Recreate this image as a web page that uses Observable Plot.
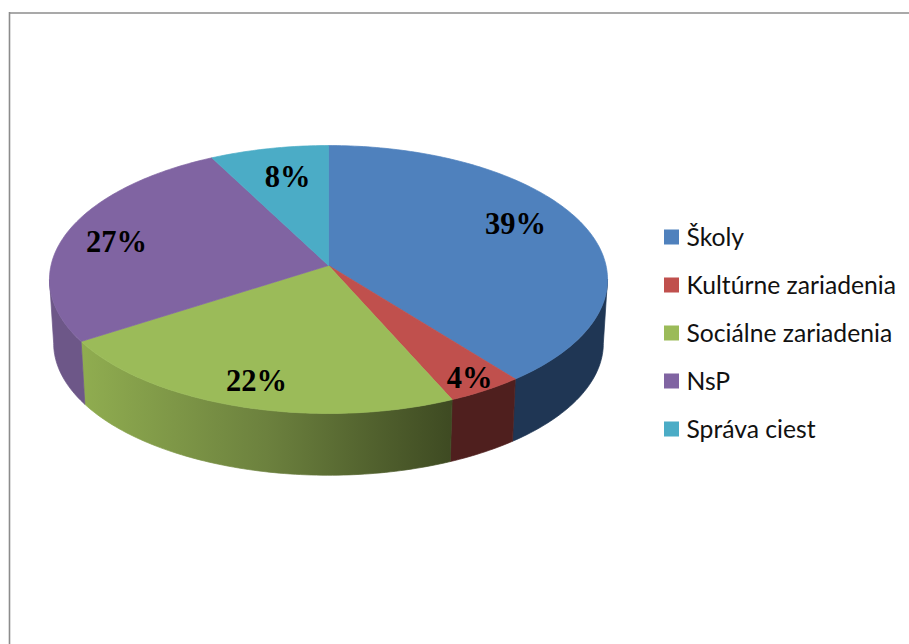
<!DOCTYPE html>
<html>
<head>
<meta charset="utf-8">
<script src="https://cdn.jsdelivr.net/npm/d3@7"></script>
<script src="https://cdn.jsdelivr.net/npm/@observablehq/plot@0.6"></script>
<style>html,body{margin:0;padding:0;background:#fff;overflow:hidden}svg{display:block}</style>
</head>
<body>
<div id="chart"></div>
<script>
const categories = ["Školy", "Kultúrne zariadenia", "Sociálne zariadenia", "NsP", "Správa ciest"];
const shares = [39.4, 4.0, 22.5, 26.5, 7.6];
const labels = ["39%", "4%", "22%", "27%", "8%"];
const topColors = ["#4f81bd", "#c0504d", "#9bbb59", "#8064a2", "#4bacc6"];
const wallColors = ["#1f3654", "#4f1f1e", "url(#greenWall)", "#6d5788", "#3a8296"];

// pie geometry (tilted disc seen in perspective)
const apex = {x: 328, y: 265}, X = 277.5, Y = 132.5, K = 0.1045, DEPTH = 64, SHRINK = 0.985;
const project = (deg) => {
  const a = deg * Math.PI / 180, u = Math.sin(a), v = -Math.cos(a), d = 1 - K * v;
  return {dx: X * u / d, dy: Y * v / d};
};
const rim = (deg) => { const p = project(deg); return {x: apex.x + p.dx, y: apex.y + p.dy}; };
const lowerRim = (deg) => { const p = project(deg); return {x: apex.x + p.dx * SHRINK, y: apex.y + p.dy * SHRINK + DEPTH}; };
const sweep = (a0, a1, f) => {
  const n = Math.max(2, Math.ceil(Math.abs(a1 - a0))), out = [];
  for (let i = 0; i <= n; i++) out.push(f(a0 + (a1 - a0) * i / n));
  return out;
};

const total = d3.sum(shares);
let acc = 0;
const slices = shares.map((s, i) => {
  const a0 = acc / total * 360; acc += s;
  return {i, a0, a1: acc / total * 360};
});
const WALL_START = 96, WALL_END = 264;

const polygon = (pts, color) => Plot.line(pts, {x: "x", y: "y", fill: color, stroke: color, strokeWidth: 0.7, curve: "linear"});

const walls = slices.flatMap(({i, a0, a1}) => {
  const s = Math.max(a0, WALL_START), e = Math.min(a1, WALL_END);
  if (e <= s) return [];
  const pts = [...sweep(s, e, rim), ...sweep(e, s, lowerRim)];
  pts.push(pts[0]);
  return [polygon(pts, wallColors[i])];
});
const tops = slices.map(({i, a0, a1}) => {
  const pts = [apex, ...sweep(a0, a1, rim), apex];
  return polygon(pts, topColors[i]);
});

// label and legend layout
const labelSpots = [[515, 224], [469, 378], [256, 381], [116, 242], [287, 177]];
const labelRows = labels.map((t, i) => ({t, x: labelSpots[i][0], y: labelSpots[i][1]}));
const legendRows = categories.map((name, i) => ({name, color: topColors[i], y: 237 + 48 * i}));

const defs = () => {
  const d = d3.create("svg:defs");
  const g = d.append("linearGradient").attr("id", "greenWall").attr("x1", 0).attr("x2", 1).attr("y1", 0).attr("y2", 0);
  g.append("stop").attr("offset", "0%").attr("stop-color", "#90ad50");
  g.append("stop").attr("offset", "50%").attr("stop-color", "#6c813e");
  g.append("stop").attr("offset", "100%").attr("stop-color", "#3e4a22");
  return d.node();
};

const chart = Plot.plot({
  width: 909, height: 644,
  margin: 0,
  x: {domain: [0, 909], range: [0, 909], axis: null},
  y: {domain: [0, 644], range: [0, 644], axis: null},
  style: {background: "#fff"},
  marks: [
    defs,
    Plot.ruleY([12.5], {x1: 9, x2: 909, stroke: "#8c8c8c", strokeWidth: 1.6}),
    Plot.ruleX([9], {y1: 12, y2: 644, stroke: "#8c8c8c", strokeWidth: 1.6}),
    ...walls,
    ...tops,
    Plot.text(labelRows, {x: "x", y: "y", text: "t", fontFamily: "Liberation Serif", fontWeight: "bold", fontSize: 30.5, fill: "#000", textAnchor: "middle", lineAnchor: "middle"}),
    Plot.rect(legendRows, {x1: () => 664, x2: () => 679, y1: d => d.y - 7.5, y2: d => d.y + 7.5, fill: "color", inset: 0}),
    Plot.text(legendRows, {x: () => 686, y: d => d.y + 0.5, text: "name", fontFamily: "Lato", fontSize: 24.7, fill: "#111", textAnchor: "start", lineAnchor: "middle"})
  ],
  color: {type: "identity"}
});
document.getElementById("chart").appendChild(chart);
</script>
</body>
</html>
